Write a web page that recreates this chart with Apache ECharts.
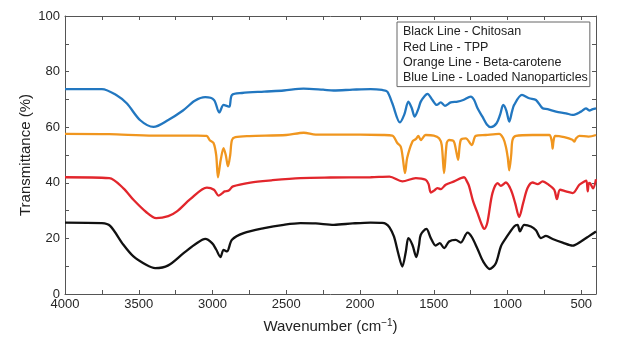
<!DOCTYPE html>
<html>
<head>
<meta charset="utf-8">
<style>
  html, body { margin: 0; padding: 0; background: #fff; }
  #chart { width: 617px; height: 337px; }
</style>
<script src="https://cdn.jsdelivr.net/npm/echarts@6.0.0/dist/echarts.min.js"></script>
</head>
<body>
<div id="chart"></div>
<script>
// wavenumbers (cm-1) and transmittance (%)
var chitosanWn = [4000, 3750, 3694, 3604, 3536, 3450, 3389, 3300, 3196, 3100, 3049, 3003, 2975, 2946, 2925, 2902, 2868, 2789, 2650, 2517, 2404, 2300, 2177, 2050, 1928, 1850, 1826, 1800, 1770, 1740, 1713, 1690, 1672, 1645, 1618, 1600, 1588, 1550, 1520, 1487, 1459, 1430, 1396, 1351, 1317, 1271, 1242, 1203, 1165, 1120, 1079, 1045, 1011, 955, 932, 916, 887, 841, 807, 773, 739, 694, 626, 558, 502, 445, 400]
var chitosanT = [25.7, 25.5, 24.5, 17.7, 13.5, 10.5, 9.3, 10.3, 14.7, 18.5, 19.8, 18.3, 16.0, 13.3, 15.9, 15.3, 19.5, 21.9, 23.7, 24.9, 25.5, 25.4, 24.9, 25.4, 25.7, 25.6, 25.3, 24.0, 20.7, 14.5, 9.9, 15.0, 20.1, 17.7, 13.3, 17.5, 21.3, 23.4, 20.1, 17.4, 18.3, 16.5, 18.9, 19.5, 18.5, 22.1, 20.5, 16.2, 11.7, 9.0, 11.1, 17.1, 20.1, 24.3, 24.9, 22.5, 24.9, 24.3, 22.9, 20.1, 20.9, 19.8, 18.5, 17.4, 18.9, 20.9, 22.5]

var tppWn = [4000, 3700, 3604, 3536, 3450, 3382, 3300, 3241, 3151, 3038, 2990, 2959, 2935, 2918, 2890, 2861, 2743, 2600, 2404, 2200, 1928, 1800, 1713, 1622, 1555, 1535, 1520, 1498, 1475, 1453, 1419, 1362, 1294, 1275, 1260, 1233, 1203, 1175, 1158, 1140, 1129, 1102, 1067, 1045, 1011, 977, 948, 921, 894, 864, 830, 796, 762, 721, 683, 665, 644, 604, 558, 513, 479, 465, 456, 448, 440, 420, 400]
var tppT = [42.0, 41.7, 38.0, 33.9, 29.5, 27.3, 28.0, 29.7, 34.1, 38.3, 37.5, 35.4, 36.2, 36.9, 37.2, 38.7, 40.1, 40.9, 41.7, 41.9, 42.0, 42.2, 40.5, 41.7, 41.1, 39.5, 36.5, 37.2, 38.1, 37.7, 39.3, 40.5, 42.0, 40.5, 38.7, 33.3, 29.1, 25.0, 23.4, 25.0, 27.9, 36.3, 39.9, 38.9, 40.1, 37.5, 32.7, 27.7, 32.7, 38.1, 40.1, 39.5, 40.5, 39.3, 37.5, 34.1, 37.5, 36.9, 36.3, 39.3, 40.5, 40.8, 36.9, 40.0, 39.9, 38.0, 41.3]

var caroteneWn = [4000, 3700, 3400, 3100, 3040, 3020, 2993, 2975, 2963, 2945, 2925, 2910, 2895, 2880, 2868, 2845, 2750, 2500, 2381, 2300, 2000, 1850, 1781, 1747, 1724, 1710, 1695, 1680, 1645, 1622, 1604, 1588, 1555, 1500, 1464, 1446, 1430, 1412, 1396, 1365, 1350, 1335, 1317, 1283, 1242, 1215, 1147, 1057, 1029, 1011, 998, 988, 975, 966, 943, 830, 717, 700, 694, 688, 676, 615, 560, 547, 535, 513, 450, 400]
var caroteneT = [57.6, 57.5, 57.0, 57.0, 56.9, 55.4, 54.3, 50.0, 42.0, 48.0, 52.5, 50.0, 45.9, 50.0, 55.4, 56.4, 56.8, 57.2, 58.0, 57.3, 57.3, 57.2, 57.0, 54.3, 53.0, 49.0, 43.5, 49.0, 54.8, 55.7, 56.9, 55.4, 57.2, 57.0, 56.0, 53.6, 43.5, 54.3, 55.4, 55.0, 52.0, 48.3, 55.4, 56.0, 53.6, 56.9, 57.2, 57.6, 56.0, 53.0, 49.0, 44.5, 50.0, 55.4, 56.9, 57.2, 57.2, 55.0, 52.3, 55.0, 56.9, 56.4, 55.5, 54.8, 56.0, 56.9, 56.6, 57.2]

var loadedWn = [4000, 3750, 3650, 3580, 3490, 3400, 3300, 3200, 3120, 3049, 2990, 2954, 2925, 2900, 2885, 2868, 2800, 2650, 2517, 2383, 2250, 2179, 2050, 1928, 1850, 1815, 1781, 1729, 1700, 1672, 1650, 1629, 1605, 1588, 1560, 1543, 1509, 1480, 1453, 1424, 1385, 1339, 1300, 1249, 1226, 1203, 1170, 1140, 1113, 1074, 1050, 1029, 1008, 988, 970, 955, 902, 853, 807, 762, 728, 671, 604, 558, 502, 468, 445, 422, 400]
var loadedT = [73.7, 73.7, 71.5, 68.5, 62.5, 60.1, 62.6, 66.0, 69.5, 70.8, 69.8, 65.3, 68.0, 67.6, 67.4, 71.6, 72.3, 72.8, 73.2, 73.9, 73.5, 73.2, 73.5, 73.7, 73.4, 72.8, 68.6, 61.7, 64.5, 69.2, 67.0, 63.8, 66.5, 69.2, 71.3, 72.0, 69.8, 68.0, 68.9, 67.7, 68.9, 69.2, 69.8, 71.0, 69.8, 66.8, 63.8, 61.0, 60.0, 61.4, 64.5, 68.0, 66.0, 62.0, 65.5, 68.0, 71.6, 70.4, 69.8, 66.8, 66.5, 65.6, 65.0, 64.4, 65.6, 66.8, 66.0, 66.5, 66.8]

var seriesNames = ['Black Line - Chitosan', 'Red Line - TPP', 'Orange Line - Beta-carotene', 'Blue Line - Loaded Nanoparticles']
var seriesColors = ['#111111', '#e2262c', '#f0961f', '#2277c0']
var xTicks = [500, 750, 1000, 1250, 1500, 1750, 2000, 2250, 2500, 2750, 3000, 3250, 3500, 3750, 4000]
var xLabels = [500, 1000, 1500, 2000, 2500, 3000, 3500, 4000]

function pairs(wn, t) {
  return wn.map(function (w, i) { return [w, t[i]] })
}

var font = 'Liberation Sans, Arial, sans-serif'
var axisColor = '#555'

function xAx(pos, labels) {
  return {
    type: 'value', position: pos, inverse: true, min: 400, max: 4000,
    axisLine: { onZero: false, lineStyle: { color: axisColor, width: 1 } },
    axisTick: { inside: true, length: 4, customValues: xTicks, lineStyle: { color: axisColor } },
    axisLabel: {
      show: labels, customValues: xLabels, margin: 4, fontSize: 13, color: '#262626', fontFamily: font,
      formatter: function (v) { return String(v) }
    },
    splitLine: { show: false }
  }
}

function yAx(pos, labels) {
  return {
    type: 'value', position: pos, min: 0, max: 100, interval: 10,
    axisLine: { show: true, onZero: false, lineStyle: { color: axisColor, width: 1 } },
    axisTick: { show: true, inside: true, length: 4, lineStyle: { color: axisColor } },
    axisLabel: {
      show: labels, margin: 5, fontSize: 13, color: '#262626', fontFamily: font,
      formatter: function (v) { return v % 20 === 0 ? String(v) : '' }
    },
    splitLine: { show: false }
  }
}

var xBottom = xAx('bottom', true)
xBottom.name = '{t|Wavenumber (cm}{s|\u22121}{t|)}'
xBottom.nameLocation = 'middle'
xBottom.nameGap = 24
xBottom.nameMoveOverlap = false
xBottom.nameTextStyle = {
  fontFamily: font, color: '#222',
  rich: {
    t: { fontSize: 15, lineHeight: 18, fontFamily: font, color: '#222' },
    s: { fontSize: 10, lineHeight: 10, verticalAlign: 'top', fontFamily: font, color: '#222' }
  }
}

var yLeft = yAx('left', true)
yLeft.name = 'Transmittance (%)'
yLeft.nameLocation = 'middle'
yLeft.nameGap = 32
yLeft.nameMoveOverlap = false
yLeft.nameTextStyle = { fontSize: 15, fontFamily: font, color: '#222' }

var chart = echarts.init(document.getElementById('chart'), null, { renderer: 'canvas' })
chart.setOption({
  animation: false,
  grid: { left: 65, right: 21, top: 16, bottom: 43, outerBoundsMode: 'none' },
  legend: {
    data: seriesNames,
    orient: 'vertical',
    left: 397, top: 22,
    itemWidth: 0, itemHeight: 0, itemGap: 0,
    selectedMode: false,
    padding: [2, 2, 1, 0],
    borderColor: '#666', borderWidth: 1,
    backgroundColor: '#fff',
    textStyle: { fontSize: 12.5, lineHeight: 15.4, color: '#222', fontFamily: font }
  },
  xAxis: [xBottom, xAx('top', false)],
  yAxis: [yLeft, yAx('right', false)],
  series: [
    { name: seriesNames[0], data: pairs(chitosanWn, chitosanT) },
    { name: seriesNames[1], data: pairs(tppWn, tppT) },
    { name: seriesNames[2], data: pairs(caroteneWn, caroteneT) },
    { name: seriesNames[3], data: pairs(loadedWn, loadedT) }
  ].map(function (s, i) {
    return Object.assign(s, {
      type: 'line', showSymbol: false, smooth: 0.3,
      color: seriesColors[i],
      lineStyle: { width: 2.3, color: seriesColors[i] }
    })
  })
})
</script>
</body>
</html>
